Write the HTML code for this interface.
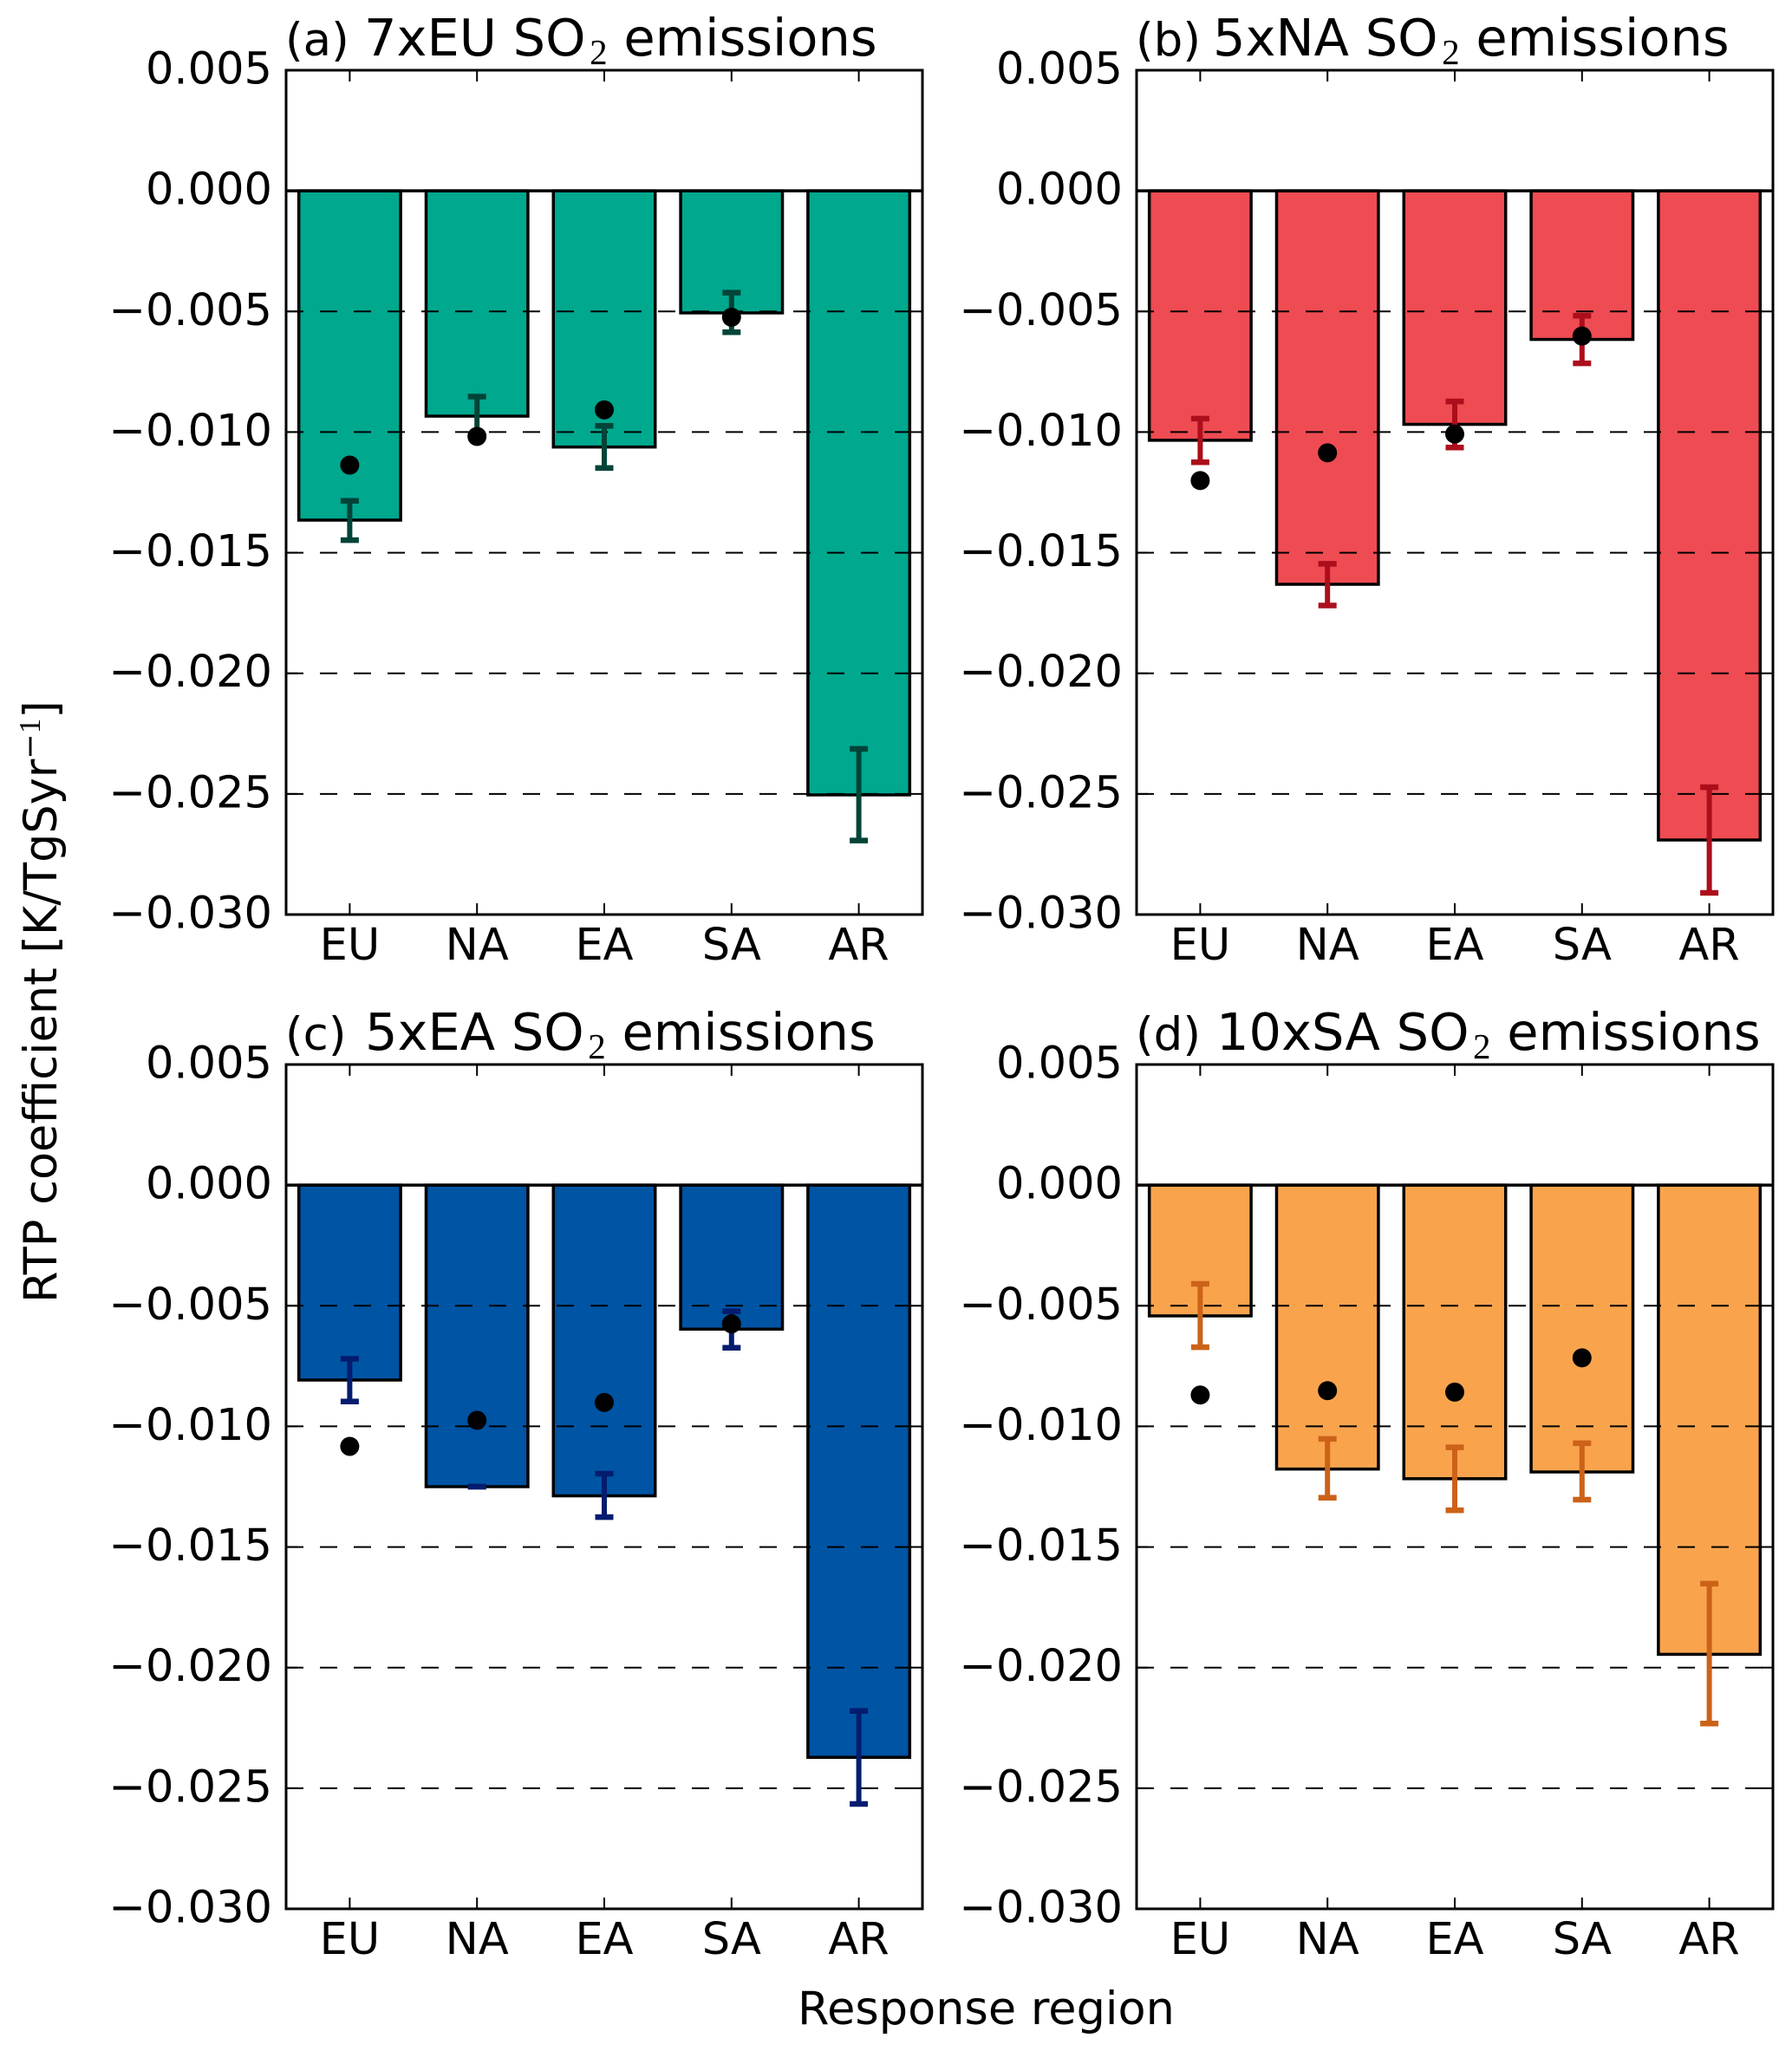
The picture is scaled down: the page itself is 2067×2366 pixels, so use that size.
<!DOCTYPE html>
<html lang="en">
<head>
<meta charset="utf-8">
<title>RTP coefficients by response region</title>
<style>
  html, body { margin: 0; padding: 0; background: #ffffff; }
  svg { display: block; }
  text { font-family: "DejaVu Sans", "Liberation Sans", sans-serif; fill: #000; }
  .tick-label { font-size: 51px; }
  .title-main { font-size: 59px; }
  .title-tag { font-size: 53px; }
  .axis-title { font-size: 52.5px; }
  .math-digit { font-family: "Liberation Serif", serif; }
</style>
</head>
<body>
<svg id="chart" xmlns="http://www.w3.org/2000/svg" width="2067" height="2366" viewBox="0 0 2067 2366">
  <rect x="0" y="0" width="2067" height="2366" fill="#ffffff"/>
  <g id="panel-a"></g>
  <g id="panel-b"></g>
  <g id="panel-c"></g>
  <g id="panel-d"></g>

  <g>
    <text class="title-tag" x="329" y="64">(a)</text>
    <text class="title-main" x="420" y="64">7xEU SO<tspan class="math-digit" font-size="41" dx="4.5" dy="10">2</tspan><tspan dy="-10"> emissions</tspan></text>
  </g>
  <g>
    <text class="title-tag" x="1310" y="64">(b)</text>
    <text class="title-main" x="1399" y="64">5xNA SO<tspan class="math-digit" font-size="41" dx="4.5" dy="10">2</tspan><tspan dy="-10"> emissions</tspan></text>
  </g>
  <g>
    <text class="title-tag" x="329" y="1211">(c)</text>
    <text class="title-main" x="421" y="1211">5xEA SO<tspan class="math-digit" font-size="41" dx="4.5" dy="10">2</tspan><tspan dy="-10"> emissions</tspan></text>
  </g>
  <g>
    <text class="title-tag" x="1310" y="1211">(d)</text>
    <text class="title-main" x="1403" y="1211">10xSA SO<tspan class="math-digit" font-size="41" dx="4.5" dy="10">2</tspan><tspan dy="-10"> emissions</tspan></text>
  </g>

  <text class="axis-title" x="920" y="2335">Response region</text>
  <text class="axis-title" transform="translate(65 1503) rotate(-90)">RTP coefficient [K/TgSyr<tspan font-size="35" dy="-19">−</tspan><tspan class="math-digit" font-size="35">1</tspan><tspan dy="19">]</tspan></text>
</svg>

<script>
const regions = ['EU', 'NA', 'EA', 'SA', 'AR'];
const yTickValues = [0.005, 0, -0.005, -0.010, -0.015, -0.020, -0.025, -0.030];
const yTickLabels = ['0.005', '0.000', '−0.005', '−0.010', '−0.015', '−0.020', '−0.025', '−0.030'];
const gridValues = [-0.005, -0.010, -0.015, -0.020, -0.025];
const yDomain = [0.005, -0.030];

const barsA = [-0.01365, -0.00934, -0.01062, -0.00506, -0.02504];
const errTopA = [-0.01285, -0.00853, -0.00974, -0.00422, -0.02313];
const errBottomA = [-0.01448, -0.01016, -0.01149, -0.00586, -0.02693];
const dotsA = [-0.01137, -0.01018, -0.00908, -0.00524, null];

const barsB = [-0.01034, -0.01631, -0.00968, -0.00616, -0.02691];
const errTopB = [-0.00944, -0.01546, -0.00873, -0.00518, -0.02472];
const errBottomB = [-0.01125, -0.01719, -0.01064, -0.00715, -0.02910];
const dotsB = [-0.01201, -0.01086, -0.01008, -0.00602, null];

const barsC = [-0.00808, -0.01250, -0.01288, -0.00597, -0.02372];
const errTopC = [-0.00720, -0.01250, -0.01196, -0.00523, -0.02180];
const errBottomC = [-0.00897, -0.01250, -0.01376, -0.00674, -0.02565];
const dotsC = [-0.01083, -0.00975, -0.00901, -0.00575, null];

const barsD = [-0.00542, -0.01177, -0.01217, -0.01189, -0.01945];
const errTopD = [-0.00409, -0.01052, -0.01087, -0.01070, -0.01652];
const errBottomD = [-0.00672, -0.01296, -0.01348, -0.01304, -0.02232];
const dotsD = [-0.00870, -0.00852, -0.00858, -0.00716, null];

const SVG_NS = 'http://www.w3.org/2000/svg';

function make(parent, tag, attrs) {
  const el = document.createElementNS(SVG_NS, tag);
  for (const k in attrs) el.setAttribute(k, attrs[k]);
  parent.appendChild(el);
  return el;
}

function drawPanel(groupId, box, style, bars, errTop, errBottom, dots) {
  const g = document.getElementById(groupId);
  const step = (box.right - box.left) / regions.length;
  const xScale = i => box.left + step * (i + 0.5);
  const yScale = v => box.top + (yDomain[0] - v) / (yDomain[0] - yDomain[1]) * (box.bottom - box.top);
  const barWidth = step * 0.8;

  bars.forEach((v, i) => {
    const bar = make(g, 'rect', {
      x: xScale(i) - barWidth / 2,
      y: yScale(0),
      width: barWidth,
      height: yScale(v) - yScale(0),
      fill: style.fill,
      stroke: '#000',
      'stroke-width': 3.5
    });
    
    
  });

  const zeroLine = make(g, 'line', {
    x1: box.left, x2: box.right, y1: yScale(0), y2: yScale(0),
    stroke: '#000', 'stroke-width': 3.5
  });
  
  

  gridValues.forEach(v => {
    const grid = make(g, 'line', {
      x1: box.left, x2: box.right, y1: yScale(v), y2: yScale(v),
      stroke: '#000', 'stroke-width': 2, 'stroke-dasharray': '20 19'
    });
    
    
  });

  regions.forEach((r, i) => {
    const cx = xScale(i);
    const err = make(g, 'g', { stroke: style.err, fill: 'none' });
    
    
    make(err, 'line', { x1: cx, x2: cx, y1: yScale(errTop[i]), y2: yScale(errBottom[i]), 'stroke-width': 6 });
    make(err, 'line', { x1: cx - 10.5, x2: cx + 10.5, y1: yScale(errTop[i]), y2: yScale(errTop[i]), 'stroke-width': 6.5 });
    make(err, 'line', { x1: cx - 10.5, x2: cx + 10.5, y1: yScale(errBottom[i]), y2: yScale(errBottom[i]), 'stroke-width': 6.5 });
  });

  dots.forEach((v, i) => {
    if (v === null) return;
    const dot = make(g, 'circle', { cx: xScale(i), cy: yScale(v), r: 11, fill: '#000' });
    
    
  });

  regions.forEach((r, i) => {
    const cx = xScale(i);
    const tickBottom = make(g, 'line', { x1: cx, x2: cx, y1: box.bottom, y2: box.bottom - 13, stroke: '#000', 'stroke-width': 2 });
    
    
    const tickTop = make(g, 'line', { x1: cx, x2: cx, y1: box.top, y2: box.top + 13, stroke: '#000', 'stroke-width': 2 });
    
    
    const label = make(g, 'text', { x: cx, y: box.bottom + 52, 'text-anchor': 'middle', class: 'tick-label' });
    label.textContent = r;
    
    
  });

  yTickValues.forEach((v, i) => {
    const y = yScale(v);
    const tickLeft = make(g, 'line', { x1: box.left, x2: box.left + 13, y1: y, y2: y, stroke: '#000', 'stroke-width': 2 });
    
    
    const tickRight = make(g, 'line', { x1: box.right, x2: box.right - 13, y1: y, y2: y, stroke: '#000', 'stroke-width': 2 });
    
    
    const label = make(g, 'text', { x: box.left - 16, y: y + 15.5, 'text-anchor': 'end', class: 'tick-label' });
    label.textContent = yTickLabels[i];
    
    
  });

  const frame = make(g, 'rect', {
    x: box.left, y: box.top,
    width: box.right - box.left, height: box.bottom - box.top,
    fill: 'none', stroke: '#000', 'stroke-width': 3
  });
  
  
}

drawPanel('panel-a', { left: 330, right: 1064, top: 81, bottom: 1055 }, { fill: '#00A88E', err: '#014438' }, barsA, errTopA, errBottomA, dotsA);
drawPanel('panel-b', { left: 1311, right: 2045, top: 81, bottom: 1055 }, { fill: '#EF4B52', err: '#AC0E1B' }, barsB, errTopB, errBottomB, dotsB);
drawPanel('panel-c', { left: 330, right: 1064, top: 1228, bottom: 2202 }, { fill: '#0054A4', err: '#041C6E' }, barsC, errTopC, errBottomC, dotsC);
drawPanel('panel-d', { left: 1311, right: 2045, top: 1228, bottom: 2202 }, { fill: '#F9A44D', err: '#CB6218' }, barsD, errTopD, errBottomD, dotsD);
</script>
</body>
</html>
